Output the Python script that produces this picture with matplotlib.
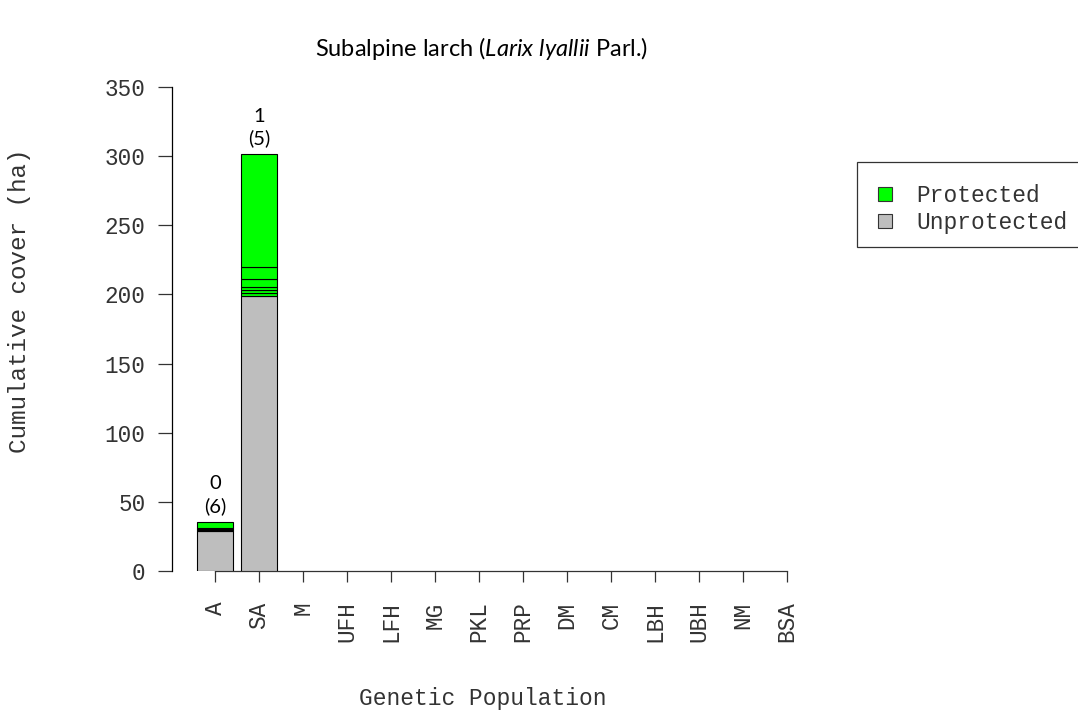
import matplotlib
matplotlib.use("Agg")
import matplotlib.pyplot as plt
from matplotlib.patches import Rectangle
import numpy as np

# ---- data ----
populations = ["A", "SA", "M", "UFH", "LFH", "MG", "PKL", "PRP", "DM",
               "CM", "LBH", "UBH", "NM", "BSA"]
unprotected = [29.0, 199.0, 0, 0, 0, 0, 0, 0, 0, 0, 0, 0, 0, 0]
# individual protected-area contributions stacked on top of unprotected cover
protected_parts = {
    "A": [0.8, 0.8, 0.8, 4.3],
    "SA": [1.8, 2.2, 2.4, 5.5, 8.7, 81.9],
}
label_top = {"A": "0", "SA": "1"}
label_count = {"A": "(6)", "SA": "(5)"}
y_ticks = [0, 50, 100, 150, 200, 250, 300, 350]

W, H = 1078, 715
GREEN = "#00FF00"
GREY = "#BEBEBE"
TXT = "#333333"
MONO = "Liberation Mono"
SANS = "Lato"

plt.rcParams["mathtext.fontset"] = "custom"
plt.rcParams["mathtext.rm"] = SANS
plt.rcParams["mathtext.it"] = SANS + ":italic"

fig = plt.figure(figsize=(W / 100, H / 100), dpi=100)


def fx(x):
    return x / W


def fy(y):
    return 1 - y / H


# plot region
left_px, right_px = 172, 830
top_px, bot_px = 87, 571
ax = fig.add_axes([fx(left_px), fy(bot_px), (right_px - left_px) / W,
                   (bot_px - top_px) / H])
ax.set_xlim(-0.473, 17.47)
ax.set_ylim(0, 350)

pos = 0.7 + 1.2 * np.arange(len(populations))

for i, name in enumerate(populations):
    base = unprotected[i]
    if base > 0:
        ax.bar(pos[i], base, width=1.0, bottom=0, color=GREY,
               edgecolor="black", linewidth=0.8, zorder=2)
    bottom = base
    for part in protected_parts.get(name, []):
        ax.bar(pos[i], part, width=1.0, bottom=bottom, color=GREEN,
               edgecolor="black", linewidth=0.8, zorder=2)
        bottom += part
    if name in label_top:
        ax.annotate(label_top[name] + "\n" + label_count[name],
                    xy=(pos[i], bottom), xytext=(0, 5),
                    textcoords="offset points", ha="center", va="bottom",
                    fontsize=14.5, family=SANS, color="black",
                    linespacing=1.3)

# axes styling
for s in ["top", "right", "bottom"]:
    ax.spines[s].set_visible(False)
ax.spines["left"].set_bounds(0, 350)
ax.spines["left"].set_linewidth(0.9)
ax.plot([pos[0], pos[-1]], [0, 0], color="#333333", lw=0.9,
        clip_on=False, zorder=1)

ax.set_yticks(y_ticks)
ax.set_yticklabels([str(v) for v in y_ticks], family=MONO, fontsize=16.3,
                   color=TXT)
ax.tick_params(axis="y", length=10, width=0.9, pad=9, color="#333333")
ax.set_xticks(pos)
ax.set_xticklabels(populations, rotation=90, family=MONO, fontsize=16.3,
                   color=TXT)
ax.tick_params(axis="x", length=8, width=0.9, pad=14, color="#333333")

fig.text(fx(20), fy(301), "Cumulative cover (ha)", rotation=90,
         ha="center", va="center", family=MONO, fontsize=17.5, color=TXT)
fig.text(fx(483), fy(698), "Genetic Population", ha="center", va="center",
         family=MONO, fontsize=16.5, color=TXT)

fig.text(fx(482), fy(49),
         r"Subalpine larch ($\mathit{Larix\ lyallii}$ Parl.)",
         ha="center", va="center", fontsize=17, family=SANS, color="black")

# legend box
fig.patches.append(Rectangle((fx(857), fy(247)), (1090 - 857) / W,
                             (247 - 162) / H, transform=fig.transFigure,
                             facecolor="white", edgecolor="#333333",
                             linewidth=0.9))
for yc, col, txt in [(194, GREEN, "Protected"), (221, GREY, "Unprotected")]:
    fig.patches.append(Rectangle((fx(878), fy(yc + 7)), 14 / W, 14 / H,
                                 transform=fig.transFigure, facecolor=col,
                                 edgecolor="#333333", linewidth=0.8))
    fig.text(fx(916), fy(yc + 2), txt, ha="left", va="center", family=MONO,
             fontsize=16.5, color=TXT)

fig.savefig("out.png", dpi=100, facecolor="white")
